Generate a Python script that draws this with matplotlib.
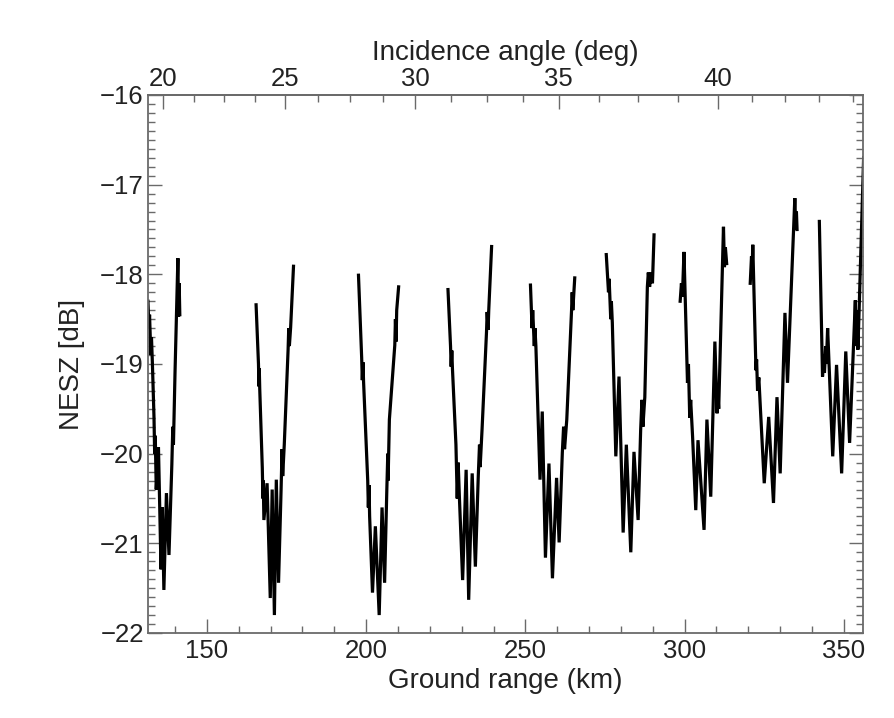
import numpy as np
import matplotlib
matplotlib.use("Agg")
import matplotlib.pyplot as plt
from matplotlib.ticker import MultipleLocator

# incidence angle (deg) against ground range (km)
angle_deg = [20, 25, 30, 35, 40, 43.75]
angle_km = [136.2, 174.6, 215.5, 260.5, 310.5, 342.2]

# NESZ of each beam: ground range (km) and NESZ (dB)
beam1_km = [131.5, 131.8, 132.0, 132.4, 132.6, 132.9, 133.4, 133.6, 133.8, 134.1, 134.8, 135.6,
            136.0, 136.5, 137.3, 138.1, 139.0, 139.3, 139.5, 140.0, 140.9, 141.1, 141.3, 141.5]
beam1_db = [-18.3, -18.6, -18.45, -18.9, -18.7, -19.0, -19.6, -20.0, -19.8, -20.4, -19.93, -21.29,
            -20.6, -21.52, -20.44, -21.13, -20.12, -19.7, -19.9, -19.09, -17.82, -18.47, -18.1, -18.45]

beam2_km = [165.45, 166.2, 166.35, 166.45, 166.6, 167.4, 167.6, 167.7, 167.9, 168.9, 169.9, 170.5,
            171.2, 171.8, 172.5, 173.3, 173.6, 173.8, 174.3, 175.5, 175.7, 175.9, 176.3, 177.2]
beam2_db = [-18.34, -19.0, -19.25, -19.05, -19.28, -20.16, -20.5, -20.3, -20.74, -20.33, -21.61, -20.4,
            -21.8, -20.29, -21.44, -20.4, -19.95, -20.25, -19.9, -18.84, -18.6, -18.8, -18.59, -17.91]

beam3_km = [197.6, 198.6, 198.8, 199.0, 199.2, 200.5, 200.7, 200.9, 201.1, 202.0, 202.9, 204.1,
            205.0, 205.8, 206.5, 206.8, 206.9, 207.3, 209.0, 209.2, 209.4, 209.6, 210.2]
beam3_db = [-18.01, -18.93, -19.18, -18.98, -19.2, -20.3, -20.6, -20.35, -20.7, -21.55, -20.81, -21.8,
            -20.6, -21.44, -20.4, -20.0, -20.3, -19.62, -18.79, -18.5, -18.75, -18.4, -18.14]

beam4_km = [225.7, 226.5, 226.7, 226.9, 227.1, 228.2, 228.6, 228.9, 229.3, 230.3, 231.4, 232.2,
            233.3, 234.3, 235.2, 235.6, 235.8, 236.4, 237.8, 238.0, 238.3, 238.5, 239.4]
beam4_db = [-18.17, -18.8, -19.03, -18.85, -19.05, -19.9, -20.5, -20.1, -20.5, -21.41, -20.18, -21.63,
            -20.22, -21.26, -20.26, -19.9, -20.15, -19.73, -18.64, -18.42, -18.62, -18.4, -17.69]

beam5_km = [251.6, 252.1, 252.3, 252.8, 253.0, 253.3, 254.6, 255.3, 256.3, 257.4, 258.5, 259.8,
            260.6, 261.6, 262.0, 262.3, 263.0, 264.5, 264.7, 264.9, 265.5]
beam5_db = [-18.12, -18.6, -18.4, -18.8, -18.6, -18.8, -20.29, -19.53, -21.16, -20.11, -21.39, -20.27,
            -20.99, -19.99, -19.7, -19.95, -19.62, -18.4, -18.2, -18.4, -18.04]

beam6_km = [275.4, 276.1, 276.3, 276.8, 277.0, 277.3, 278.4, 279.4, 280.7, 281.7, 283.1, 284.1,
            285.4, 286.2, 286.6, 286.9, 287.5, 288.3, 288.6, 289.0, 289.5, 289.9, 290.4]
beam6_db = [-17.78, -18.2, -18.05, -18.5, -18.3, -18.54, -20.03, -19.14, -20.88, -19.9, -21.1, -19.98,
            -20.74, -19.73, -19.4, -19.7, -19.37, -18.14, -17.98, -18.14, -17.98, -18.1, -17.56]

beam7_km = [298.6, 299.0, 299.3, 299.8, 300.9, 301.2, 301.6, 301.9, 302.5, 303.5, 304.2, 306.1,
            307.0, 308.2, 309.5, 310.2, 310.4, 310.7, 312.2, 312.5, 312.8, 313.2]
beam7_db = [-18.3, -18.1, -18.25, -17.75, -19.21, -19.0, -19.6, -19.4, -19.81, -20.63, -19.85, -20.85,
            -19.62, -20.48, -18.75, -19.55, -19.3, -19.5, -17.47, -17.92, -17.7, -17.88]

beam8_km = [320.6, 321.0, 321.2, 321.4, 322.4, 322.6, 322.9, 323.3, 323.7, 325.0, 326.4, 327.9,
            329.0, 330.0, 331.5, 332.3, 334.6, 334.9, 335.1, 335.3]
beam8_db = [-18.1, -17.8, -17.95, -17.67, -19.07, -18.95, -19.3, -19.15, -19.43, -20.33, -19.59, -20.55,
            -19.37, -20.22, -18.43, -19.21, -17.15, -17.5, -17.3, -17.5]

beam9_km = [342.3, 343.3, 343.6, 343.9, 344.3, 344.5, 344.9, 346.5, 347.7, 349.3, 350.6, 351.8,
            353.6, 353.8, 354.1, 354.4, 354.7, 356.2]
beam9_db = [-17.41, -19.14, -18.9, -19.1, -18.8, -19.0, -18.6, -20.03, -19.01, -20.22, -18.86, -19.88,
            -18.29, -18.8, -18.4, -18.84, -18.5, -16.7]

beams = [(beam1_km, beam1_db), (beam2_km, beam2_db), (beam3_km, beam3_db),
         (beam4_km, beam4_db), (beam5_km, beam5_db), (beam6_km, beam6_db),
         (beam7_km, beam7_db), (beam8_km, beam8_db), (beam9_km, beam9_db)]


def lin_interp(x, xp, fp):
    # np.interp with straight-line extrapolation at both ends
    x = np.atleast_1d(np.asarray(x, dtype=float))
    xp = np.asarray(xp, dtype=float)
    fp = np.asarray(fp, dtype=float)
    y = np.interp(x, xp, fp)
    lo = x < xp[0]
    hi = x > xp[-1]
    y[lo] = fp[0] + (x[lo] - xp[0]) * (fp[1] - fp[0]) / (xp[1] - xp[0])
    y[hi] = fp[-1] + (x[hi] - xp[-1]) * (fp[-1] - fp[-2]) / (xp[-1] - xp[-2])
    return y


def km_to_deg(x):
    return lin_interp(x, angle_km, angle_deg)


def deg_to_km(x):
    return lin_interp(x, angle_deg, angle_km)


plt.rcParams['font.family'] = ['Liberation Sans', 'DejaVu Sans']
plt.rcParams['font.size'] = 18.5

grey = '#6a6a6a'
ink = '#222222'
label_size = 20
fig = plt.figure(figsize=(8.94, 7.18), dpi=100)
ax = fig.add_axes([0.1655, 0.1184, 0.7998, 0.7493])

for km, db in beams:
    ax.plot(km, db, color='black', lw=2.3, solid_joinstyle='miter')

ax.set_xlim(131.5, 356)
ax.set_ylim(-22, -16)
ax.xaxis.set_major_locator(MultipleLocator(50))
ax.xaxis.set_minor_locator(MultipleLocator(10))
ax.yaxis.set_major_locator(MultipleLocator(1))
ax.yaxis.set_minor_locator(MultipleLocator(0.1))
ax.tick_params(which='both', direction='in', color=grey, width=1.0,
               top=False, right=True, labelcolor=ink)
ax.tick_params(which='major', length=10)
ax.tick_params(axis='x', which='major', pad=4)
ax.tick_params(axis='y', which='major', pad=3)
ax.tick_params(which='minor', length=5)
for s in ax.spines.values():
    s.set_color(grey)
    s.set_linewidth(1.3)

ax.set_xlabel('Ground range (km)', color=ink, fontsize=label_size)
ax.set_ylabel('NESZ [dB]', color=ink, fontsize=label_size)
ax.xaxis.set_label_coords(0.5, -0.066)
ax.yaxis.set_label_coords(-0.088, 0.5)

sec = ax.secondary_xaxis('top', functions=(km_to_deg, deg_to_km))
sec.set_xticks([20, 25, 30, 35, 40])
sec.xaxis.set_minor_locator(MultipleLocator(1.25))
sec.tick_params(which='both', direction='in', color=grey, width=1.0, labelcolor=ink)
sec.tick_params(which='major', length=10, pad=3)
sec.tick_params(which='minor', length=5)
sec.spines['top'].set_color(grey)
sec.spines['top'].set_linewidth(1.3)
sec.set_xlabel('Incidence angle (deg)', labelpad=5, color=ink, fontsize=label_size)

fig.savefig('out.png', dpi=100)
